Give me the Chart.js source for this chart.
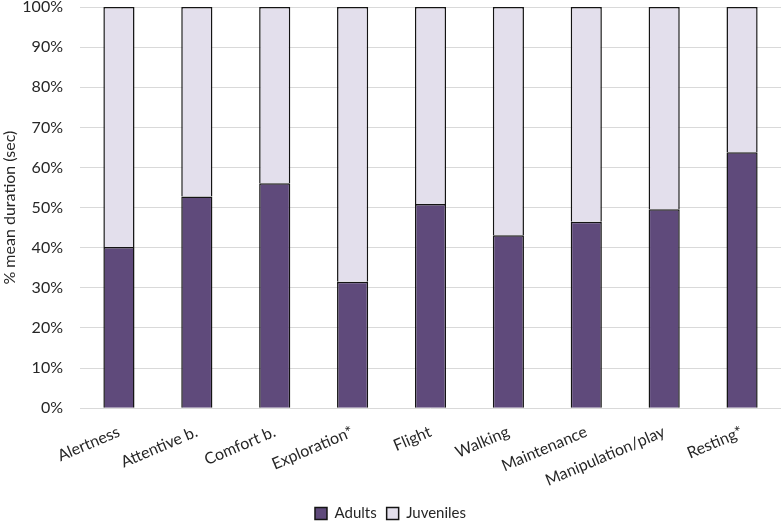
<!DOCTYPE html>
<html>
<head>
<meta charset="utf-8">
<script src="https://cdn.jsdelivr.net/npm/chart.js@4"></script>
<style>
  html, body { margin: 0; padding: 0; background: #fff; }
  #wrap { width: 781px; height: 521px; }
</style>
</head>
<body>
<div id="wrap"><canvas id="grafico" width="781" height="521"></canvas></div>
<script>
// categorias y valores (% duracion media)
const categorias = ["Alertness", "Attentive b.", "Comfort b.", "Exploration*", "Flight", "Walking", "Maintenance", "Manipulation/play", "Resting*"];
const adultos = [40.2, 52.8, 56.1, 31.5, 50.9, 43.1, 46.5, 49.6, 63.8];
const juveniles = [59.8, 47.2, 43.9, 68.5, 49.1, 56.9, 53.5, 50.4, 36.2];
const ticksY = [0, 10, 20, 30, 40, 50, 60, 70, 80, 90, 100];

const fuente = "Lato, 'Open Sans', sans-serif";
Chart.defaults.font.family = fuente;
Chart.defaults.color = "#262626";

const ctx = document.getElementById("grafico");

new Chart(ctx, {
  type: "bar",
  data: {
    labels: categorias,
    datasets: [
      {
        label: "Adults",
        data: adultos,
        backgroundColor: "#5f4a7b",
        borderColor: "#141414",
        borderWidth: 1.5,
        barPercentage: 0.4,
        categoryPercentage: 1,
      },
      {
        label: "Juveniles",
        data: juveniles,
        backgroundColor: "#e3dfec",
        borderColor: "#141414",
        borderWidth: 1.5,
        barPercentage: 0.4,
        categoryPercentage: 1,
      },
    ],
  },
  options: {
    responsive: false,
    animation: false,
    layout: { padding: { left: 0, right: 0, top: 7, bottom: -10 } },
    plugins: {
      tooltip: { enabled: false },
      legend: {
        position: "bottom",
        labels: {
          boxWidth: 12,
          boxHeight: 12,
          padding: 10,
          font: { size: 15 },
          color: "#262626",
        },
      },
    },
    scales: {
      x: {
        stacked: true,
        grid: { display: false },
        border: { display: false },
        ticks: {
          minRotation: 23,
          maxRotation: 23,
          padding: 6,
          font: { size: 16 },
          color: "#262626",
        },
      },
      y: {
        stacked: true,
        min: 0,
        max: 100,
        afterBuildTicks: (eje) => {
          eje.ticks = ticksY.map((v) => ({ value: v }));
        },
        afterFit: (eje) => {
          eje.width = 80;
          eje.paddingTop = 0;
          eje.paddingBottom = 0;
        },
        grid: { color: "#d9d9d9", drawTicks: false },
        border: { display: false },
        ticks: {
          padding: 17,
          font: { size: 16 },
          color: "#262626",
          callback: (v) => v + "%",
        },
        title: {
          display: true,
          text: "% mean duration (sec)",
          font: { size: 16 },
          color: "#262626",
          padding: { top: 0, bottom: 2 },
        },
      },
    },
  },
});
</script>
</body>
</html>
